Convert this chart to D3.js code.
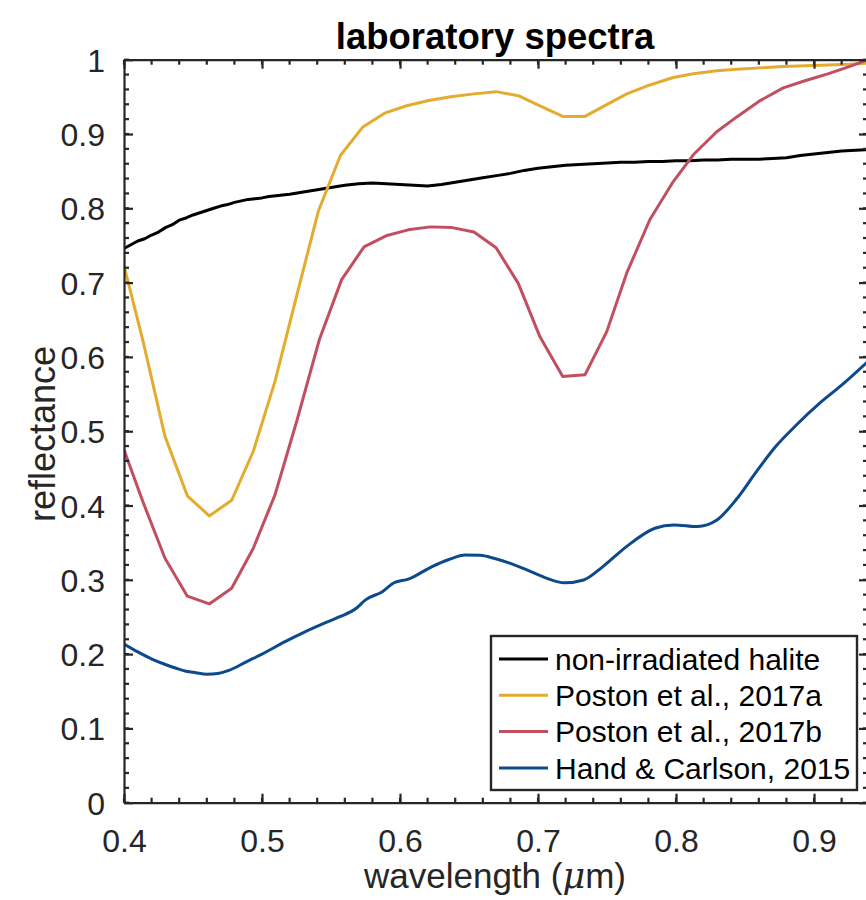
<!DOCTYPE html>
<html>
<head>
<meta charset="utf-8">
<script src="https://d3js.org/d3.v7.min.js"></script>
<style>
  body { margin: 0; background: #fff; }
  text { font-family: "Liberation Sans", Arial, Helvetica, sans-serif; }
</style>
</head>
<body>
<svg></svg>
<script>
// values
var halite = [
  [0.400,0.746],[0.405,0.751],[0.410,0.756],[0.415,0.759],[0.420,0.764],[0.425,0.768],
  [0.430,0.774],[0.435,0.778],[0.440,0.784],[0.445,0.787],[0.450,0.791],[0.455,0.794],
  [0.460,0.797],[0.465,0.800],[0.470,0.803],[0.475,0.805],[0.480,0.808],[0.485,0.810],
  [0.490,0.812],[0.495,0.813],[0.500,0.814],[0.505,0.816],[0.510,0.817],[0.515,0.818],
  [0.520,0.819],[0.530,0.822],[0.540,0.825],[0.550,0.828],[0.560,0.831],[0.570,0.833],
  [0.580,0.834],[0.590,0.833],[0.600,0.832],[0.610,0.831],[0.620,0.830],[0.630,0.832],
  [0.640,0.835],[0.650,0.838],[0.660,0.841],[0.670,0.844],[0.680,0.847],[0.690,0.851],
  [0.700,0.854],[0.710,0.856],[0.720,0.858],[0.730,0.859],[0.740,0.860],[0.750,0.861],
  [0.760,0.862],[0.770,0.862],[0.780,0.863],[0.790,0.863],[0.800,0.864],[0.810,0.864],
  [0.820,0.865],[0.830,0.865],[0.840,0.866],[0.850,0.866],[0.860,0.866],[0.870,0.867],
  [0.880,0.868],[0.890,0.871],[0.900,0.873],[0.910,0.875],[0.920,0.877],[0.930,0.878],
  [0.9391,0.879]
];

var poston_a = [
  [0.4000,0.723],[0.4137,0.622],[0.4297,0.493],[0.4459,0.413],[0.4618,0.386],[0.4780,0.407],
  [0.4937,0.473],[0.5094,0.567],[0.5251,0.682],[0.5408,0.796],[0.5568,0.871],[0.5728,0.909],
  [0.5888,0.928],[0.6048,0.938],[0.6208,0.945],[0.6368,0.950],[0.6536,0.954],[0.6696,0.957],
  [0.6857,0.9515],[0.7014,0.938],[0.7179,0.9237],[0.7340,0.9237],[0.7498,0.9395],[0.7643,0.954],
  [0.7810,0.966],[0.7980,0.976],[0.8125,0.981],[0.8295,0.985],[0.8440,0.987],[0.8610,0.989],
  [0.8777,0.991],[0.8940,0.992],[0.9100,0.993],[0.9260,0.994],[0.9391,0.9955]
];

var poston_b = [
  [0.4000,0.475],[0.4137,0.405],[0.4297,0.329],[0.4459,0.278],[0.4618,0.2675],[0.4780,0.2887],
  [0.4937,0.3425],[0.5094,0.4143],[0.5251,0.513],[0.5415,0.623],[0.5577,0.704],[0.5739,0.748],
  [0.5899,0.763],[0.6059,0.771],[0.6219,0.775],[0.6379,0.774],[0.6536,0.768],[0.6696,0.747],
  [0.6857,0.699],[0.7014,0.627],[0.7179,0.5736],[0.7340,0.5759],[0.7498,0.634],[0.7643,0.713],
  [0.7810,0.7846],[0.7980,0.836],[0.8125,0.872],[0.8295,0.903],[0.8440,0.923],[0.8610,0.945],
  [0.8777,0.962],[0.8940,0.972],[0.9100,0.981],[0.9260,0.991],[0.9391,1.0]
];

var hand = [
  [0.400,0.2137],[0.410,0.203],[0.4206,0.193],[0.430,0.186],[0.4378,0.181],[0.445,0.177],
  [0.452,0.175],[0.460,0.173],[0.468,0.174],[0.476,0.178],[0.489,0.190],[0.500,0.200],
  [0.5167,0.2168],[0.530,0.229],[0.544,0.2406],[0.556,0.250],[0.5683,0.2617],[0.575,0.273],
  [0.5872,0.284],[0.5957,0.296],[0.606,0.3008],[0.6232,0.3178],[0.635,0.327],[0.6473,0.3335],
  [0.658,0.333],[0.668,0.329],[0.680,0.322],[0.6919,0.3133],[0.705,0.303],[0.7194,0.296],
  [0.7331,0.2998],[0.747,0.3178],[0.7641,0.3447],[0.7847,0.3694],[0.7985,0.3739],[0.8156,0.3716],
  [0.8293,0.380],[0.8436,0.408],[0.858,0.445],[0.8725,0.480],[0.887,0.508],[0.9043,0.538],
  [0.920,0.562],[0.9391,0.594]
];

var seriesNames = ['non-irradiated halite','Poston et al., 2017a','Poston et al., 2017b','Hand & Carlson, 2015'];
var seriesColors = ['#000000','#E3AC2E','#C24F60','#0C4A8C'];
var xTicks = [0.4,0.5,0.6,0.7,0.8,0.9];
var yTicks = [0,0.1,0.2,0.3,0.4,0.5,0.6,0.7,0.8,0.9,1];

var width = 866, height = 900;
// plot box (pL..pR, pT..pB); right edge sits just past the picture edge
var pL = 124, pR = 868, pT = 59.7, pB = 802.7;
var axisCol = '#262626';

var svg = d3.select('svg').attr('width', width).attr('height', height);

var x = d3.scaleLinear().domain([0.4, 0.9391]).range([pL, pR]);
var y = d3.scaleLinear().domain([0, 1]).range([pB, pT]);

svg.append('defs').append('clipPath').attr('id','clip')
  .append('rect').attr('x',pL).attr('y',pT).attr('width',pR-pL).attr('height',pB-pT);

var fmt = function(d){ return d === 0 ? '0' : d === 1 ? '1' : d3.format('.1f')(d) };

// lines
var lineFn = d3.line().x(d => x(d[0])).y(d => y(d[1]));
var smoothFn = d3.line().x(d => x(d[0])).y(d => y(d[1])).curve(d3.curveMonotoneX);
var plot = svg.append('g').attr('clip-path','url(#clip)');
[halite, poston_a, poston_b, hand].forEach(function(s,i){
  plot.append('path')
    .datum(s)
    .attr('fill','none')
    .attr('stroke', seriesColors[i])
    .attr('stroke-width', 3)
    .attr('stroke-linejoin','round')
    .attr('d', i === 3 ? smoothFn : lineFn);
});

// axes - ticks inside, box on all sides
var xMinor = d3.range(0.4, 0.94, 0.02);
var yMinor = d3.range(0, 1.001, 0.02);
var bottomAxis = d3.axisBottom(x).tickValues(xTicks).tickFormat(fmt).tickSizeInner(-9).tickSizeOuter(0).tickPadding(20);
var leftAxis = d3.axisLeft(y).tickValues(yTicks).tickFormat(fmt).tickSizeInner(-9).tickSizeOuter(0).tickPadding(19);

function styleAx(g){
  g.select('.domain').attr('stroke', axisCol).attr('stroke-width', 2.2);
  g.selectAll('.tick line').attr('stroke', axisCol).attr('stroke-width', 2.2);
  g.selectAll('text').attr('fill','#262626').style('font-size','32px');
}

svg.append('g').attr('transform','translate(0,'+pB+')').call(bottomAxis).call(styleAx)
  .selectAll('text').attr('dy','0.93em');
svg.append('g').attr('transform','translate('+pL+',0)').call(leftAxis).call(styleAx)
  .selectAll('text').attr('dy','0.36em');
svg.append('g').attr('transform','translate(0,'+pT+')')
  .call(d3.axisTop(x).tickValues(xTicks).tickFormat('').tickSizeInner(-9).tickSizeOuter(0)).call(styleAx);
svg.append('g').attr('transform','translate('+pR+',0)')
  .call(d3.axisRight(y).tickValues(yTicks).tickFormat('').tickSizeInner(-9).tickSizeOuter(0)).call(styleAx);

// minor ticks
var minor = svg.append('g').attr('stroke', axisCol).attr('stroke-width', 2.2);
xMinor.forEach(function(v){
  minor.append('line').attr('x1',x(v)).attr('x2',x(v)).attr('y1',pB).attr('y2',pB-5);
  minor.append('line').attr('x1',x(v)).attr('x2',x(v)).attr('y1',pT).attr('y2',pT+5);
});
yMinor.forEach(function(v){
  minor.append('line').attr('x1',pL).attr('x2',pL+5).attr('y1',y(v)).attr('y2',y(v));
  minor.append('line').attr('x1',pR).attr('x2',pR-5).attr('y1',y(v)).attr('y2',y(v));
});

// labels
svg.append('text')
  .attr('x', 495).attr('y', 49)
  .style('text-anchor','middle').style('font-size','36.5px').style('font-weight','bold')
  .text('laboratory spectra');

var xl = svg.append('text')
  .attr('x', 495).attr('y', 888)
  .attr('fill','#262626')
  .style('text-anchor','middle').style('font-size','35px');
xl.append('tspan').text('wavelength (');
xl.append('tspan').style('font-style','italic').style('font-family','"DejaVu Serif", serif').text('μ');
xl.append('tspan').text('m)');

svg.append('text')
  .attr('transform','translate(55,434)rotate(-90)')
  .attr('fill','#262626')
  .style('text-anchor','middle').style('font-size','36px')
  .text('reflectance');

// legend
var lg = svg.append('g');
lg.append('rect')
  .attr('x', 491).attr('y', 636).attr('width', 366).attr('height', 154)
  .attr('fill','#fff').attr('stroke', axisCol).attr('stroke-width', 2.4);
seriesNames.forEach(function(n,i){
  var yy = 659 + i*36.3;
  lg.append('line').attr('x1',499).attr('x2',548).attr('y1',yy).attr('y2',yy)
    .attr('stroke', seriesColors[i]).attr('stroke-width', 3);
  lg.append('text').attr('x', 555).attr('y', yy).attr('dy','0.36em')
    .style('font-size','30px').text(n);
});
</script>
</body>
</html>
